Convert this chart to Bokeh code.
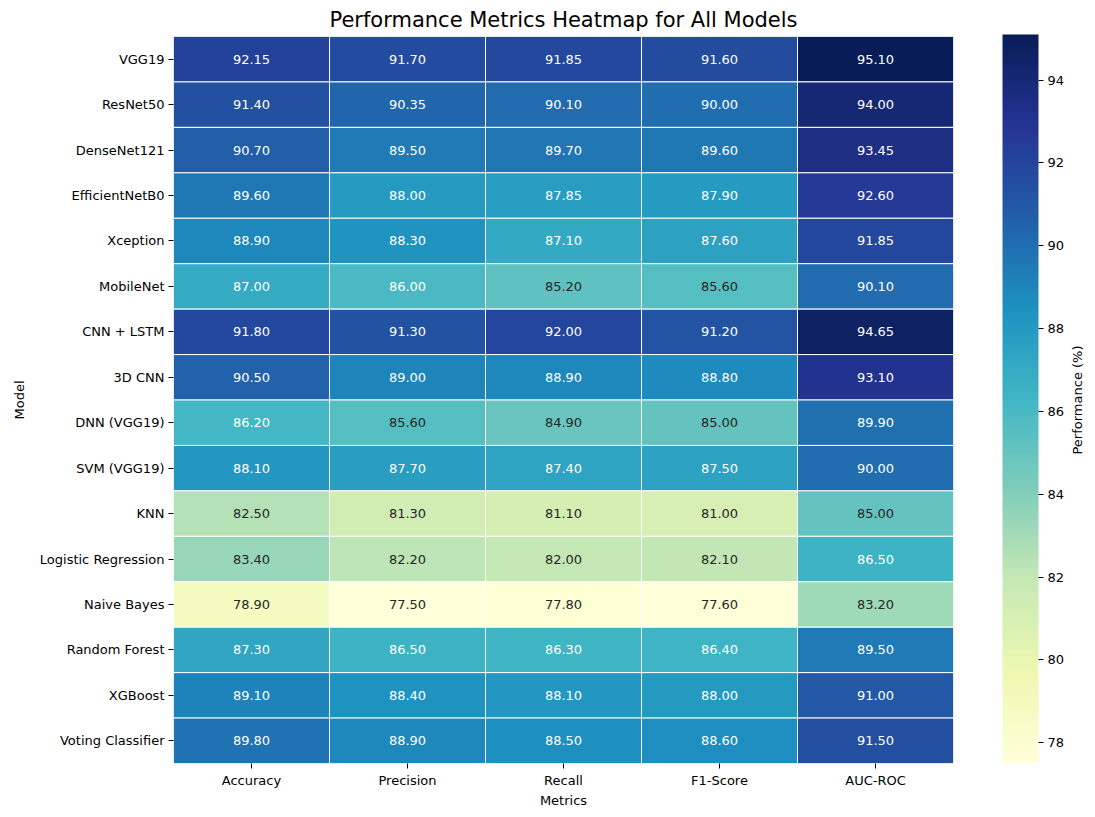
import numpy as np
from bokeh.plotting import figure
from bokeh.layouts import row
from bokeh.models import (ColumnDataSource, LinearColorMapper, ColorBar, FixedTicker,
                          FactorRange, Range1d)
from bokeh.core.properties import value
from bokeh.embed import file_html
from bokeh.resources import INLINE

models = ["VGG19", "ResNet50", "DenseNet121", "EfficientNetB0", "Xception", "MobileNet",
          "CNN + LSTM", "3D CNN", "DNN (VGG19)", "SVM (VGG19)", "KNN", "Logistic Regression",
          "Naive Bayes", "Random Forest", "XGBoost", "Voting Classifier"]
metrics = ["Accuracy", "Precision", "Recall", "F1-Score", "AUC-ROC"]

accuracy = [92.15, 91.40, 90.70, 89.60, 88.90, 87.00, 91.80, 90.50, 86.20, 88.10, 82.50, 83.40, 78.90, 87.30, 89.10, 89.80]
precision = [91.70, 90.35, 89.50, 88.00, 88.30, 86.00, 91.30, 89.00, 85.60, 87.70, 81.30, 82.20, 77.50, 86.50, 88.40, 88.90]
recall = [91.85, 90.10, 89.70, 87.85, 87.10, 85.20, 92.00, 88.90, 84.90, 87.40, 81.10, 82.00, 77.80, 86.30, 88.10, 88.50]
f1_score = [91.60, 90.00, 89.60, 87.90, 87.60, 85.60, 91.20, 88.80, 85.00, 87.50, 81.00, 82.10, 77.60, 86.40, 88.00, 88.60]
auc_roc = [95.10, 94.00, 93.45, 92.60, 91.85, 90.10, 94.65, 93.10, 89.90, 90.00, 85.00, 86.50, 83.20, 89.50, 91.00, 91.50]
cbar_ticks = [78, 80, 82, 84, 86, 88, 90, 92, 94]
cbar_label = "Performance (%)"

series = [accuracy, precision, recall, f1_score, auc_roc]

# YlGnBu colormap (matplotlib), 256 steps
base = np.array([
    (1.0, 1.0, 0.85098039215686272),
    (0.92941176470588238, 0.97254901960784312, 0.69411764705882351),
    (0.7803921568627451, 0.9137254901960784, 0.70588235294117652),
    (0.49803921568627452, 0.80392156862745101, 0.73333333333333328),
    (0.25490196078431371, 0.71372549019607845, 0.7686274509803922),
    (0.11372549019607843, 0.56862745098039214, 0.75294117647058822),
    (0.13333333333333333, 0.36862745098039218, 0.6588235294117647),
    (0.14509803921568629, 0.20392156862745098, 0.58039215686274515),
    (0.03137254901960784, 0.11372549019607843, 0.34509803921568627)])
xs = np.linspace(0, 1, len(base))
t = np.linspace(0, 1, 256)
rgb = np.stack([np.interp(t, xs, base[:, k]) for k in range(3)], axis=1)
palette = ["#%02x%02x%02x" % tuple(int(round(c * 255)) for c in r) for r in rgb]

allv = [v for s in series for v in s]
lo, hi = min(allv), max(allv)
mapper = LinearColorMapper(palette=palette, low=lo, high=hi)


def lum(r):
    lin = [c / 12.92 if c <= 0.03928 else ((c + 0.055) / 1.055) ** 2.4 for c in r]
    return 0.2126 * lin[0] + 0.7152 * lin[1] + 0.0722 * lin[2]


xcol, ycol, vcol, lab, tcol = [], [], [], [], []
for m, s in zip(metrics, series):
    for mod, v in zip(models, s):
        xcol.append(m)
        ycol.append(mod)
        vcol.append(v)
        lab.append("%.2f" % v)
        idx = min(255, max(0, int((v - lo) / (hi - lo) * 256)))
        tcol.append("#262626" if lum(rgb[idx]) > 0.408 else "#ffffff")

src = ColumnDataSource(dict(x=xcol, y=ycol, v=vcol, lab=lab, tc=tcol))

p = figure(width=1067, height=817, output_backend="svg", toolbar_location=None,
           x_range=FactorRange(factors=metrics, range_padding=0),
           y_range=FactorRange(factors=list(reversed(models)), range_padding=0),
           min_border_left=173, min_border_right=107, min_border_top=34, min_border_bottom=54,
           title="Performance Metrics Heatmap for All Models")
p.rect(x="x", y="y", width=1, height=1, source=src,
       fill_color={"field": "v", "transform": mapper}, line_color="white", line_width=1)
p.text(x="x", y="y", text="lab", source=src, text_color="tc", text_align="center",
       text_baseline="middle", text_font=value("DejaVu Sans"), text_font_size="13px")

p.title.text_font = "DejaVu Sans"
p.title.text_font_size = "21px"
p.title.text_font_style = "normal"
p.title.align = "center"
p.title.text_color = "#000000"

p.grid.visible = False
p.outline_line_color = None
p.background_fill_color = "white"
p.border_fill_color = "white"
for ax in (p.xaxis, p.yaxis):
    ax.axis_line_color = None
    ax.major_tick_in = 0
    ax.major_tick_out = 5
    ax.minor_tick_line_color = None
    ax.major_label_text_font = "DejaVu Sans"
    ax.major_label_text_font_size = "13px"
    ax.major_label_text_color = "#000000"
    ax.axis_label_text_font = "DejaVu Sans"
    ax.axis_label_text_font_size = "13px"
    ax.axis_label_text_font_style = "normal"
    ax.axis_label_text_color = "#000000"
    ax.major_label_standoff = 4
p.xaxis.axis_label = "Metrics"
p.yaxis.axis_label = "Model"
p.xaxis.axis_label_standoff = 2
p.yaxis.axis_label_standoff = 10

cb = ColorBar(color_mapper=mapper, width=36, height=729, padding=0, margin=0,
              ticker=FixedTicker(ticks=cbar_ticks), major_tick_in=0, major_tick_out=5,
              major_tick_line_color="#000000", bar_line_color=None, border_line_color=None,
              major_label_text_font="DejaVu Sans", major_label_text_font_size="13px",
              major_label_text_color="#000000", label_standoff=4, background_fill_color=None,
              location=(49, 0))
p.add_layout(cb, "right")

# side figure holding the rotated colour-bar label
q = figure(width=28, height=817, output_backend="svg", toolbar_location=None,
           x_range=Range1d(0, 1), y_range=Range1d(0, 1),
           min_border_left=0, min_border_right=8, min_border_top=34, min_border_bottom=54)
q.axis.visible = False
q.grid.visible = False
q.outline_line_color = None
q.border_fill_color = "white"
q.text(x=[0.5], y=[0.5], text=[cbar_label], angle=90, angle_units="deg",
       text_align="center", text_baseline="middle", text_font=value("DejaVu Sans"),
       text_font_size="13px", text_color="#000000")

layout = row(p, q, spacing=0)
open("out.html", "w").write(file_html(layout, INLINE))
